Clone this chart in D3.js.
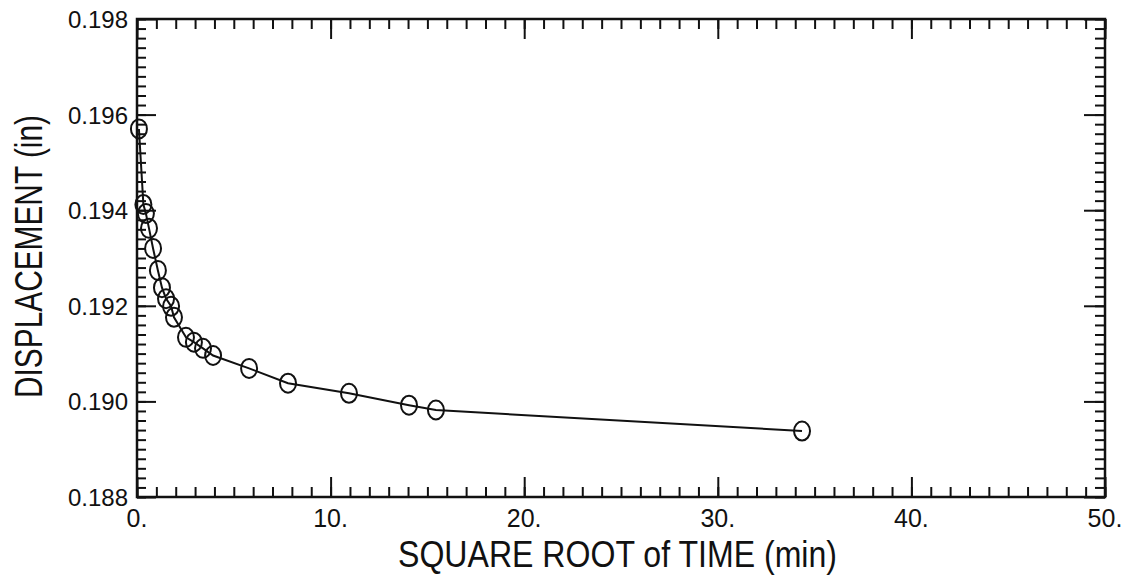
<!DOCTYPE html>
<html>
<head>
<meta charset="utf-8">
<script src="https://cdn.jsdelivr.net/npm/d3@7"></script>
<style>
  html, body { margin: 0; padding: 0; background: #fff; }
  svg { display: block; }
  text { font-family: "Liberation Sans", Arial, sans-serif; fill: #111; }
</style>
</head>
<body>
<svg id="chart" width="1128" height="587"></svg>
<script>
// ---- data ----
const sqrtTime = [0.10, 0.33, 0.46, 0.62, 0.83, 1.08, 1.29, 1.50, 1.76, 1.91, 2.53, 2.94, 3.41, 3.93, 5.79, 7.80, 10.95, 14.05, 15.44, 34.35];
const displacement = [0.19570, 0.19412, 0.19393, 0.19362, 0.19320, 0.19274, 0.19238, 0.19215, 0.19199, 0.19176, 0.19134, 0.19124, 0.19111, 0.19096, 0.19069, 0.19038, 0.19017, 0.18992, 0.18982, 0.18938];
const xMajorTicks = [0, 10, 20, 30, 40, 50];
const xTickLabels = ["0.", "10.", "20.", "30.", "40.", "50."];
const yMajorTicks = [0.188, 0.190, 0.192, 0.194, 0.196, 0.198];
const yTickLabels = ["0.188", "0.190", "0.192", "0.194", "0.196", "0.198"];
const xTitle = "SQUARE ROOT of TIME (min)";
const yTitle = "DISPLACEMENT (in)";

const points = sqrtTime.map((x, i) => ({ x, y: displacement[i] }));

const svg = d3.select("#chart");
const L = 137, R = 1105, T = 19, B = 497;

const x = d3.scaleLinear().domain([0, 50]).range([L, R]);
const y = d3.scaleLinear().domain([0.188, 0.198]).range([B, T]);

const minorX = x.ticks(50);
const minorY = y.ticks(50);

function styleAxis(g) {
  g.select(".domain").remove();
  g.selectAll(".tick line").attr("stroke", "#111").attr("stroke-width", 2);
}

// minor ticks on all four sides (inward)
svg.append("g").attr("transform", `translate(0,${B})`)
  .call(d3.axisBottom(x).tickValues(minorX).tickSize(-10).tickFormat(""))
  .call(styleAxis);
svg.append("g").attr("transform", `translate(0,${T})`)
  .call(d3.axisTop(x).tickValues(minorX).tickSize(-10).tickFormat(""))
  .call(styleAxis);
svg.append("g").attr("transform", `translate(${L},0)`)
  .call(d3.axisLeft(y).tickValues(minorY).tickSize(-9).tickFormat(""))
  .call(styleAxis);
svg.append("g").attr("transform", `translate(${R},0)`)
  .call(d3.axisRight(y).tickValues(minorY).tickSize(-10).tickFormat(""))
  .call(styleAxis);

// major ticks
svg.append("g").attr("transform", `translate(0,${B})`)
  .call(d3.axisBottom(x).tickValues(xMajorTicks).tickSize(-20).tickFormat(""))
  .call(styleAxis);
svg.append("g").attr("transform", `translate(0,${T})`)
  .call(d3.axisTop(x).tickValues(xMajorTicks).tickSize(-20).tickFormat(""))
  .call(styleAxis);
svg.append("g").attr("transform", `translate(${L},0)`)
  .call(d3.axisLeft(y).tickValues(yMajorTicks).tickSize(-19).tickFormat(""))
  .call(styleAxis);
svg.append("g").attr("transform", `translate(${R},0)`)
  .call(d3.axisRight(y).tickValues(yMajorTicks).tickSize(-21).tickFormat(""))
  .call(styleAxis);

// frame
svg.append("rect")
  .attr("x", L).attr("y", T).attr("width", R - L).attr("height", B - T)
  .attr("fill", "none").attr("stroke", "#111").attr("stroke-width", 2.5);

// tick labels
svg.append("g").selectAll("text").data(xMajorTicks).join("text")
  .attr("x", d => x(d)).attr("y", B + 30)
  .attr("text-anchor", "middle").attr("font-size", 25)
  .text((d, i) => xTickLabels[i]);

svg.append("g").selectAll("text").data(yMajorTicks).join("text")
  .attr("x", L - 9).attr("y", d => y(d) + 9)
  .attr("text-anchor", "end").attr("font-size", 24)
  .text((d, i) => yTickLabels[i]);

// axis titles
svg.append("text")
  .attr("x", 617.5).attr("y", 567)
  .attr("text-anchor", "middle").attr("font-size", 36)
  .attr("textLength", 439).attr("lengthAdjust", "spacingAndGlyphs")
  .text(xTitle);

svg.append("text")
  .attr("transform", "translate(42,256.5) rotate(-90)")
  .attr("text-anchor", "middle").attr("font-size", 38)
  .attr("textLength", 283).attr("lengthAdjust", "spacingAndGlyphs")
  .text(yTitle);

// data line
svg.append("path")
  .datum(points)
  .attr("fill", "none").attr("stroke", "#111").attr("stroke-width", 2)
  .attr("d", d3.line().x(d => x(d.x)).y(d => y(d.y)));

// markers
svg.append("g").selectAll("ellipse").data(points).join("ellipse")
  .attr("cx", d => x(d.x)).attr("cy", d => y(d.y))
  .attr("rx", 8).attr("ry", 9.5)
  .attr("fill", "none").attr("stroke", "#111").attr("stroke-width", 2);
</script>
</body>
</html>
